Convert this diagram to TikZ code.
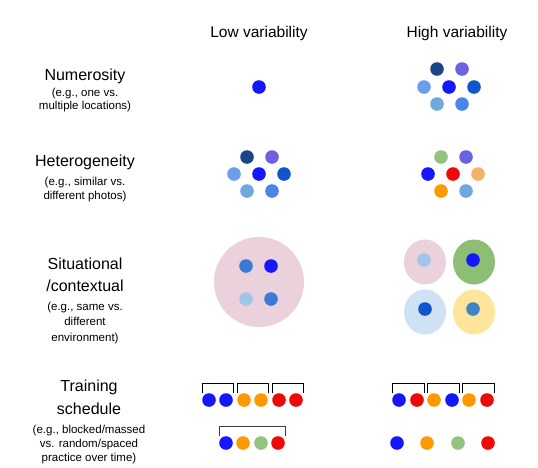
\documentclass[tikz,border=0pt]{standalone}
\usepackage{fontspec}
\setmainfont{Liberation Sans}
\usetikzlibrary{shapes.geometric}
\definecolor{cblue}{RGB}{22,22,255}
\definecolor{cnavy}{RGB}{28,69,135}
\definecolor{cpurple}{RGB}{108,98,224}
\definecolor{clight}{RGB}{109,158,235}
\definecolor{cmed}{RGB}{17,85,204}
\definecolor{cbl}{RGB}{111,168,220}
\definecolor{cbr}{RGB}{74,134,232}
\definecolor{cred}{RGB}{240,8,8}
\definecolor{corange}{RGB}{255,153,0}
\definecolor{clorange}{RGB}{246,178,107}
\definecolor{cgreen}{RGB}{147,196,125}
\definecolor{cpink}{RGB}{234,209,220}
\definecolor{cgreenbg}{RGB}{140,191,116}
\definecolor{clbluebg}{RGB}{207,226,243}
\definecolor{cyellowbg}{RGB}{255,229,153}
\definecolor{csteel}{RGB}{60,120,216}
\definecolor{cpale}{RGB}{159,197,232}
\definecolor{csteel2}{RGB}{61,133,198}
\tikzset{
  dot/.style={circle, minimum size=13.6pt, inner sep=0pt, draw=none},
  head/.style={anchor=base, inner sep=0pt, font=\fontsize{15.5}{18}\selectfont},
  ttl/.style={anchor=base, inner sep=0pt, font=\fontsize{16}{19}\selectfont},
  sub/.style={anchor=base, inner sep=0pt, font=\fontsize{11.5}{13}\selectfont},
  bracket/.style={draw=black, line width=1pt},
  zone/.style={ellipse, inner sep=0pt, draw=none}
}
\begin{document}
\begin{tikzpicture}[x=1pt,y=-1pt]
\fill[white] (0,0) rectangle (538,467);
\useasboundingbox (0,0) rectangle (538,467);

% headers
\node[head] (hlow) at (259,37) {Low variability};
\node[head] (hhigh) at (457,37) {High variability};

% Numerosity
\node[ttl] (t1) at (85,80) {Numerosity};
\node[sub] (t1a) at (85,96) {(e.g., one vs.};
\node[sub] (t1b) at (85,109) {multiple locations)};
\node[dot, fill=cblue] (n0) at (259,87) {};
\node[dot, fill=cnavy] (n1) at (437,69) {};
\node[dot, fill=cpurple] (n2) at (462,69) {};
\node[dot, fill=clight] (n3) at (424,87) {};
\node[dot, fill=cblue] (n4) at (449,87) {};
\node[dot, fill=cmed] (n5) at (474,87) {};
\node[dot, fill=cbl] (n6) at (437,104) {};
\node[dot, fill=cbr] (n7) at (462,104) {};

% Heterogeneity
\node[ttl] (t2) at (85,166) {Heterogeneity};
\node[sub] (t2a) at (85,185) {(e.g., similar vs.};
\node[sub] (t2b) at (85,199) {different photos)};
\node[dot, fill=cnavy] (h1) at (247,157) {};
\node[dot, fill=cpurple] (h2) at (272,157) {};
\node[dot, fill=clight] (h3) at (234,174) {};
\node[dot, fill=cblue] (h4) at (259,174) {};
\node[dot, fill=cmed] (h5) at (284,174) {};
\node[dot, fill=cbl] (h6) at (247,191) {};
\node[dot, fill=cbr] (h7) at (272,191) {};
\node[dot, fill=cgreen] (g1) at (441,157) {};
\node[dot, fill=cpurple] (g2) at (466,157) {};
\node[dot, fill=cblue] (g3) at (428,174) {};
\node[dot, fill=cred] (g4) at (453,174) {};
\node[dot, fill=clorange] (g5) at (478,174) {};
\node[dot, fill=corange] (g6) at (441,191) {};
\node[dot, fill=cbl] (g7) at (466,191) {};

% Situational
\node[ttl] (t3) at (85,269) {Situational};
\node[ttl] (t3b) at (85,291) {/contextual};
\node[sub] (t3c) at (85,310) {(e.g., same vs.};
\node[sub] (t3d) at (85,325) {different};
\node[sub] (t3e) at (85,341) {environment)};
\node[circle, minimum size=90pt, inner sep=0pt, fill=cpink] (big) at (259,282) {};
\node[dot, fill=csteel] (s1) at (246,266) {};
\node[dot, fill=cblue] (s2) at (271,266) {};
\node[dot, fill=cpale] (s3) at (246,299) {};
\node[dot, fill=csteel] (s4) at (271,299) {};
\node[zone, minimum width=42pt, minimum height=45pt, fill=cpink] (e1) at (425,262) {};
\node[zone, minimum width=42pt, minimum height=45pt, fill=cgreenbg] (e2) at (474,262) {};
\node[zone, minimum width=42pt, minimum height=45pt, fill=clbluebg] (e3) at (425,312) {};
\node[zone, minimum width=42pt, minimum height=45pt, fill=cyellowbg] (e4) at (474,312) {};
\node[dot, fill=cpale] (u1) at (424,260) {};
\node[dot, fill=cblue] (u2) at (473,260) {};
\node[dot, fill=cmed] (u3) at (425,309) {};
\node[dot, fill=csteel2] (u4) at (473,309) {};

% Training schedule
\node[ttl] (t4) at (89,391) {Training};
\node[ttl] (t4b) at (89,414) {schedule};
\node[sub] (t4c) at (89,433) {(e.g., blocked/massed};
\node[sub] (t4d) at (89,447) {vs. random/spaced};
\node[sub] (t4e) at (89,461) {practice over time)};

\node[dot, fill=cblue] (a1) at (209,400) {};
\node[dot, fill=cblue] (a2) at (226,400) {};
\node[dot, fill=corange] (a3) at (244,400) {};
\node[dot, fill=corange] (a4) at (261,400) {};
\node[dot, fill=cred] (a5) at (279,400) {};
\node[dot, fill=cred] (a6) at (296,400) {};
\draw[bracket] (a1.west |- a1.north) -- ++(0,-10) -| (a2.east |- a2.north);
\draw[bracket] (a3.west |- a3.north) -- ++(0,-10) -| (a4.east |- a4.north);
\draw[bracket] (a5.west |- a5.north) -- ++(0,-10) -| (a6.east |- a6.north);

\node[dot, fill=cblue] (b1) at (226,443) {};
\node[dot, fill=corange] (b2) at (243,443) {};
\node[dot, fill=cgreen] (b3) at (261,443) {};
\node[dot, fill=cred] (b4) at (278,443) {};
\draw[bracket, draw=black!75] (b1.west |- b1.north) -- ++(0,-10) -| (b4.east |- b4.north);

\node[dot, fill=cblue] (c1) at (399,400) {};
\node[dot, fill=cred] (c2) at (417,400) {};
\node[dot, fill=corange] (c3) at (434,400) {};
\node[dot, fill=cblue] (c4) at (452,400) {};
\node[dot, fill=corange] (c5) at (469,400) {};
\node[dot, fill=cred] (c6) at (487,400) {};
\draw[bracket] (c1.west |- c1.north) -- ++(0,-10) -| (c2.east |- c2.north);
\draw[bracket] (c3.west |- c3.north) -- ++(0,-10) -| (c4.east |- c4.north);
\draw[bracket] (c5.west |- c5.north) -- ++(0,-10) -| (c6.east |- c6.north);

\node[dot, fill=cblue] (d1) at (397,443) {};
\node[dot, fill=corange] (d2) at (427,443) {};
\node[dot, fill=cgreen] (d3) at (458,443) {};
\node[dot, fill=cred] (d4) at (488,443) {};
\end{tikzpicture}
\end{document}
